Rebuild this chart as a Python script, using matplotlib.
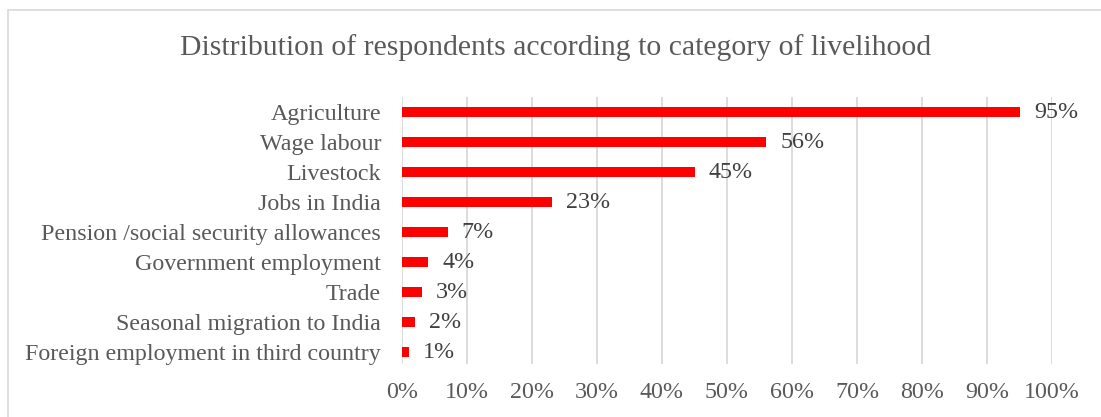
import matplotlib
matplotlib.use("Agg")
import matplotlib.pyplot as plt
from matplotlib.patches import Rectangle
from matplotlib.ticker import MultipleLocator, FuncFormatter

categories = [
    "Agriculture",
    "Wage labour",
    "Livestock",
    "Jobs in India",
    "Pension /social security allowances",
    "Government employment",
    "Trade",
    "Seasonal migration to India",
    "Foreign employment in third country",
]
shares = [95, 56, 45, 23, 7, 4, 3, 2, 1]

TEXT = "#595959"
VALUE = "#404040"
GRID = "#d9d9d9"
BAR = "#ff0000"
FONT = ["Liberation Serif", "DejaVu Serif"]

plt.rcParams["font.family"] = FONT

fig = plt.figure(figsize=(11.01, 4.17), dpi=100)
ax = fig.add_axes([402 / 1101, 53 / 417, 650 / 1101, 267 / 417])

ypos = list(range(len(categories)))
ax.barh(ypos, shares, height=0.33, color=BAR, zorder=3)
for y, v in zip(ypos, shares):
    ax.text(v + 2.2, y, f"{v}%", va="center", ha="left",
            fontsize=17.3, color=VALUE)

ax.set_xlim(0, 100)
ax.set_ylim(len(categories) - 0.6, -0.5)
ax.set_yticks(ypos)
ax.set_yticklabels(categories, fontsize=17.3, color=TEXT)
ax.xaxis.set_major_locator(MultipleLocator(10))
ax.xaxis.set_major_formatter(FuncFormatter(lambda v, p: f"{int(v)}%"))
ax.tick_params(axis="x", labelsize=17.3, labelcolor=TEXT, length=0, pad=13)
ax.tick_params(axis="y", length=0, pad=15)
ax.grid(axis="x", color=GRID, linewidth=1.3, zorder=0)
for s in ax.spines.values():
    s.set_visible(False)

fig.text(556 / 1101, 1 - 48 / 417, "Distribution of respondents according to category of livelihood",
         ha="center", va="center", fontsize=21.4, color=TEXT)

fig.add_artist(Rectangle((7.5 / 1101, -0.1), 1.2, 1 - 10 / 417 + 0.1,
                         transform=fig.transFigure, fill=False,
                         edgecolor=GRID, linewidth=1.2))

fig.savefig("out.png", dpi=100)
